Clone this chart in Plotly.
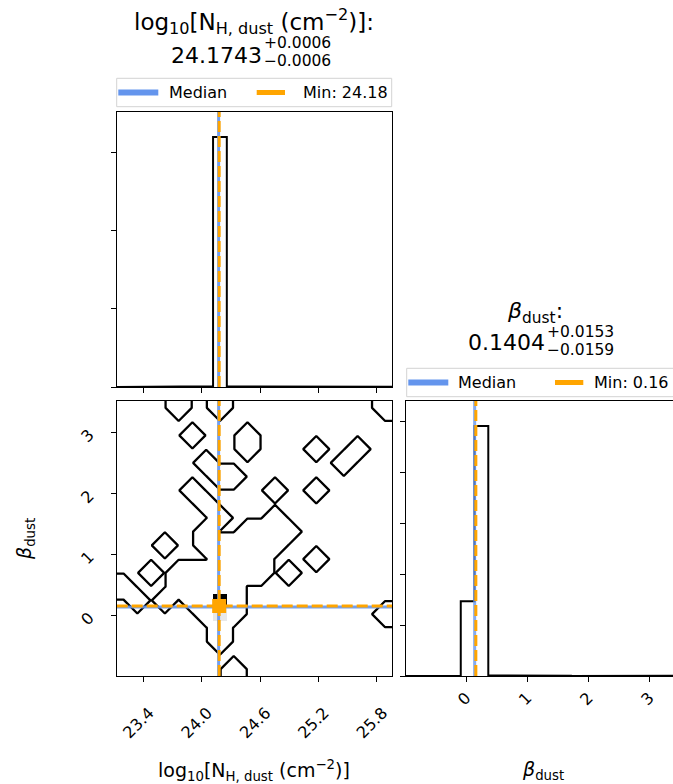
import numpy as np
import plotly.graph_objects as go

# ------------------------------------------------------------------ data
NH_RANGE = [23.1265, 25.957]      # log10 N_H,dust histogram range
BETA_RANGE = [-0.989, 3.52]       # beta_dust histogram range
N_BINS = 20

# marginal histogram counts (20 bins each)
nh_counts = [1, 1, 1, 2, 3, 5, 8, 3196, 8, 6, 4, 4, 2, 0, 3, 0, 1, 1, 0, 2]
beta_counts = [1, 0, 1, 1, 735, 2460, 6, 9, 5, 7, 5, 2, 1, 3, 2, 2, 3, 2, 0, 3]

# 2D histogram: non-empty cells (bin index along N_H, bin index along beta, count)
cell_beta_bin = [0, 2, 3, 4, 4, 4, 4, 5, 5, 5, 5, 5, 5, 6, 6, 6, 6, 6, 6,
                 7, 7, 7, 7, 7, 7, 7, 7, 7, 8, 8, 8, 8, 8, 9, 9, 9, 9, 9, 9, 9,
                 10, 10, 10, 10, 10, 11, 11, 12, 13, 13, 13, 14, 14, 15, 15,
                 16, 16, 16, 17, 17, 19, 19, 19]
cell_nh_bin = [8, 7, 7, 6, 7, 8, 19, 1, 3, 5, 6, 7, 8, 0, 4, 5, 6, 7, 8,
               2, 4, 5, 6, 7, 8, 9, 10, 12, 7, 8, 9, 10, 14, 3, 6, 7, 8, 9, 10, 11,
               6, 9, 10, 11, 12, 7, 11, 6, 5, 11, 14, 7, 8, 6, 16,
               9, 14, 17, 5, 9, 4, 7, 19]
cell_count = [1, 1, 1, 1, 732, 1, 1, 1, 1, 1, 1, 2455, 1, 1, 1, 1, 1, 1, 1,
              1, 1, 1, 1, 1, 1, 1, 1, 1, 1, 1, 1, 1, 1, 1, 1, 1, 1, 1, 1, 1,
              1, 1, 1, 1, 1, 1, 1, 1, 1, 1, 1, 1, 1, 1, 1,
              1, 1, 1, 1, 1, 1, 1, 1]

nh_median, nh_err_hi, nh_err_lo, nh_min = 24.1743, 0.0006, 0.0006, 24.18
beta_median, beta_err_hi, beta_err_lo, beta_min = 0.1404, 0.0153, 0.0159, 0.16

nh_ticks = [23.4, 24.0, 24.6, 25.2, 25.8]
beta_ticks = [0, 1, 2, 3]
nh_count_ticks = [0, 1000, 2000, 3000]
beta_count_ticks = [0, 500, 1000, 1500, 2000, 2500]
legend_labels = ["Median", "Min"]

NH_LABEL = "log<sub>10</sub>[N<sub>H, dust</sub> (cm<sup>\u22122</sup>)]"
BETA_LABEL = "<i>\u03b2</i><sub>dust</sub>"

# ------------------------------------------------------------------ style
W, H_FIG = 673, 784
FONT = "DejaVu Sans"
BLUE = "#6495ED"
ORANGE = "#FFA500"
DASH = "11px,4px"


def px(x):
    return x / W


def py(y):
    return 1 - y / H_FIG


# panel pixel boxes
LEFT_X = (116.7, 392.0)
RIGHT_X = (405.7, 673.0)
TOP_Y = (112.0, 387.0)
BOT_Y = (401.0, 676.0)
RIGHT_FULL_W = LEFT_X[1] - LEFT_X[0]

# ------------------------------------------------------------------ derived grids
nh_edges = np.linspace(NH_RANGE[0], NH_RANGE[1], N_BINS + 1)
beta_edges = np.linspace(BETA_RANGE[0], BETA_RANGE[1], N_BINS + 1)
nh_w = nh_edges[1] - nh_edges[0]
beta_w = beta_edges[1] - beta_edges[0]
nh_centers = 0.5 * (nh_edges[1:] + nh_edges[:-1])
beta_centers = 0.5 * (beta_edges[1:] + beta_edges[:-1])

Hist2 = np.zeros((N_BINS, N_BINS))
for k, j, c in zip(cell_nh_bin, cell_beta_bin, cell_count):
    Hist2[j, k] = c

# padded grid as in corner's hist2d
Hp = np.zeros((N_BINS + 4, N_BINS + 4))
Hp[2:-2, 2:-2] = Hist2
Hp[2:-2, 1] = Hist2[:, 0]
Hp[2:-2, -2] = Hist2[:, -1]
Hp[1, 2:-2] = Hist2[0]
Hp[-2, 2:-2] = Hist2[-1]
Hp[1, 1] = Hist2[0, 0]
Hp[1, -2] = Hist2[0, -1]
Hp[-2, 1] = Hist2[-1, 0]
Hp[-2, -2] = Hist2[-1, -1]
idx = np.arange(-2, N_BINS + 2)
nh_nodes = NH_RANGE[0] + (idx + 0.5) * nh_w
beta_nodes = BETA_RANGE[0] + (idx + 0.5) * beta_w

hmax = Hist2.max()
dens = np.where(Hist2 > 0, Hist2, np.nan)
# white -> black density map (corner-style alpha map composited on white)
fs = np.linspace(0, 1, 11)
dens_scale = []
for f in fs:
    g = int(round(255 * (1 - f ** 2)))
    dens_scale.append([float(f), f"rgb({g},{g},{g})"])


def step_xy(edges, counts):
    xs = [edges[0]]
    ys = [0]
    for i, c in enumerate(counts):
        xs += [edges[i], edges[i + 1]]
        ys += [c, c]
    xs.append(edges[-1])
    ys.append(0)
    return xs, ys


fig = go.Figure()

# ---------------- top-left: N_H marginal
nh_ymax = 1.1 * max(nh_counts)
sx, sy = step_xy(nh_edges, nh_counts)
fig.add_trace(go.Scatter(x=sx, y=sy, mode="lines", line=dict(color="black", width=2),
                         xaxis="x", yaxis="y", hoverinfo="skip"))
fig.add_trace(go.Scatter(x=[nh_median, nh_median], y=[0, nh_ymax], mode="lines",
                         line=dict(color=BLUE, width=3), opacity=0.9, xaxis="x", yaxis="y"))
fig.add_trace(go.Scatter(x=[nh_min, nh_min], y=[0, nh_ymax], mode="lines",
                         line=dict(color=ORANGE, width=3, dash=DASH), xaxis="x", yaxis="y"))

# ---------------- bottom-left: 2D
fig.add_trace(go.Heatmap(x=nh_centers, y=beta_centers, z=dens, zmin=0, zmax=hmax,
                         colorscale=dens_scale, showscale=False, hoverinfo="skip",
                         xaxis="x2", yaxis="y2"))
fig.add_trace(go.Contour(x=nh_nodes, y=beta_nodes, z=Hp, autocontour=False,
                         contours=dict(start=0.05, end=0.05, size=1, coloring="lines"),
                         line=dict(width=2.3, smoothing=0),
                         colorscale=[[0, "black"], [1, "black"]], showscale=False,
                         hoverinfo="skip", xaxis="x2", yaxis="y2"))
fig.add_trace(go.Scatter(x=[nh_median, nh_median], y=BETA_RANGE, mode="lines",
                         line=dict(color=BLUE, width=3), opacity=0.9, xaxis="x2", yaxis="y2"))
fig.add_trace(go.Scatter(x=NH_RANGE, y=[beta_median, beta_median], mode="lines",
                         line=dict(color=BLUE, width=3), opacity=0.9, xaxis="x2", yaxis="y2"))
fig.add_trace(go.Scatter(x=[nh_min, nh_min], y=BETA_RANGE, mode="lines",
                         line=dict(color=ORANGE, width=3, dash=DASH), xaxis="x2", yaxis="y2"))
fig.add_trace(go.Scatter(x=NH_RANGE, y=[beta_min, beta_min], mode="lines",
                         line=dict(color=ORANGE, width=3, dash=DASH), xaxis="x2", yaxis="y2"))
fig.add_trace(go.Scatter(x=[nh_min], y=[beta_min], mode="markers",
                         marker=dict(symbol="square", size=14, color=ORANGE, line=dict(width=0)),
                         xaxis="x2", yaxis="y2"))

# ---------------- bottom-right: beta marginal
beta_ymax = 1.1 * max(beta_counts)
sx, sy = step_xy(beta_edges, beta_counts)
fig.add_trace(go.Scatter(x=sx, y=sy, mode="lines", line=dict(color="black", width=2),
                         xaxis="x3", yaxis="y3", hoverinfo="skip"))
fig.add_trace(go.Scatter(x=[beta_median, beta_median], y=[0, beta_ymax], mode="lines",
                         line=dict(color=BLUE, width=3), opacity=0.8, xaxis="x3", yaxis="y3"))
fig.add_trace(go.Scatter(x=[beta_min, beta_min], y=[0, beta_ymax], mode="lines",
                         line=dict(color=ORANGE, width=3, dash=DASH), xaxis="x3", yaxis="y3"))

beta_right_lim = BETA_RANGE[0] + (BETA_RANGE[1] - BETA_RANGE[0]) * (RIGHT_X[1] - RIGHT_X[0]) / RIGHT_FULL_W

axis_common = dict(showgrid=False, zeroline=False, showline=True, linecolor="black",
                   linewidth=1.3, ticks="outside", ticklen=5, tickwidth=1.3,
                   tickcolor="black", tickfont=dict(family=FONT, size=16, color="black"))

fig.update_layout(
    width=W, height=H_FIG, margin=dict(l=0, r=0, t=0, b=0),
    paper_bgcolor="white", plot_bgcolor="white", showlegend=False,
    font=dict(family=FONT, color="black"),
    xaxis=dict(domain=[px(LEFT_X[0]), px(LEFT_X[1])], anchor="y", range=NH_RANGE,
               tickvals=nh_ticks, showticklabels=False, mirror=True, **axis_common),
    yaxis=dict(domain=[py(TOP_Y[1]), py(TOP_Y[0])], anchor="x", range=[0, nh_ymax],
               tickvals=nh_count_ticks, showticklabels=False, mirror=True, **axis_common),
    xaxis2=dict(domain=[px(LEFT_X[0]), px(LEFT_X[1])], anchor="y2", range=NH_RANGE,
                tickvals=nh_ticks, ticktext=[f"{t:.1f}" for t in nh_ticks], tickangle=-45,
                ticklabelshift=6, ticklabelstandoff=15,
                mirror=True, **axis_common),
    yaxis2=dict(domain=[py(BOT_Y[1]), py(BOT_Y[0])], anchor="x2", range=BETA_RANGE,
                tickvals=beta_ticks, tickangle=-45, ticklabelstandoff=18,
                mirror=True, **axis_common),
    xaxis3=dict(domain=[px(RIGHT_X[0]), 1.0], anchor="y3", range=[BETA_RANGE[0], beta_right_lim],
                tickvals=beta_ticks, tickangle=-45, mirror=True, **axis_common),
    yaxis3=dict(domain=[py(BOT_Y[1]), py(BOT_Y[0])], anchor="x3", range=[0, beta_ymax],
                tickvals=beta_count_ticks, showticklabels=False, mirror=False, **axis_common),
)

ann = []


def add_text(text, x, y, size, xanchor="center", yanchor="middle", angle=0):
    ann.append(dict(text=text, x=px(x), y=py(y), xref="paper", yref="paper",
                    xanchor=xanchor, yanchor=yanchor, showarrow=False, textangle=angle,
                    font=dict(family=FONT, size=size, color="black")))


# titles
add_text(NH_LABEL + ":", 254, 22, 23)
add_text(f"{nh_median:.4f}", 263.5, 55, 22, xanchor="right")
add_text(f"+{nh_err_hi:.4f}", 261.5, 43, 15.5, xanchor="left")
add_text(f"\u2212{nh_err_lo:.4f}", 261.5, 61, 15.5, xanchor="left")

add_text(BETA_LABEL + ":", 535, 312, 22)
add_text(f"{beta_median:.4f}", 546.5, 342.5, 22, xanchor="right")
add_text(f"+{beta_err_hi:.4f}", 544.5, 331.5, 15.5, xanchor="left")
add_text(f"\u2212{beta_err_lo:.4f}", 544.5, 349.5, 15.5, xanchor="left")

# axis labels
add_text(NH_LABEL, 254, 770, 19)
add_text(BETA_LABEL, 543, 770, 19)
add_text(BETA_LABEL, 25, 539, 19, angle=-90)

# legends
shapes = []


def legend(x0, x1, y0, y1, items):
    shapes.append(dict(type="rect", xref="paper", yref="paper", x0=px(x0), x1=px(x1),
                       y0=py(y1), y1=py(y0), line=dict(color="#d3d3d3", width=1),
                       fillcolor="rgba(255,255,255,0.8)", layer="above"))
    yc = 0.5 * (y0 + y1)
    for (sx0, sx1, col, lw, tx, label) in items:
        shapes.append(dict(type="line", xref="paper", yref="paper", x0=px(sx0), x1=px(sx1),
                           y0=py(yc), y1=py(yc), line=dict(color=col, width=lw), layer="above"))
        add_text(label, tx, yc, 16, xanchor="left")


legend(116.7, 391.7, 78.3, 106.7, [
    (118.3, 158.3, BLUE, 6, 167.0, legend_labels[0]),
    (256.7, 285.0, ORANGE, 5, 300.5, f"{legend_labels[1]}: {nh_min:.2f}"),
])
legend(406.7, 690.0, 368.3, 396.7, [
    (408.3, 448.3, BLUE, 6, 455.5, legend_labels[0]),
    (555.0, 583.3, ORANGE, 5, 592.0, f"{legend_labels[1]}: {beta_min:.2f}"),
])

fig.update_layout(annotations=ann, shapes=shapes)
fig.write_html("out.html", config={"displayModeBar": False},
               post_script="document.body.style.margin='0px';document.body.style.overflow='hidden';")
